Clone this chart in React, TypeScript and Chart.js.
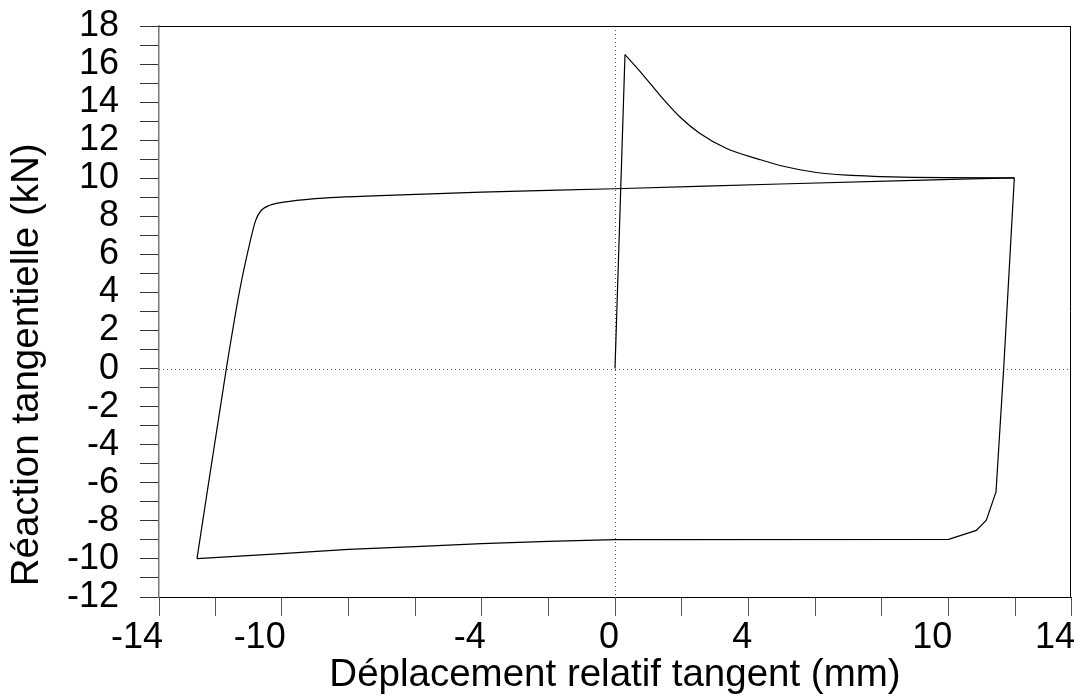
import React, { useEffect, useRef } from "react";
import { Chart, registerables } from "chart.js";

Chart.register(...registerables);

// Hysteresis loop: tangential displacement (mm) vs tangential reaction (kN)
// 1) initial loading
const riseX = [0, 0.3];
const riseY = [0, 16.5];
// 2) softening after the peak
const decayX = [0.3, 0.85, 1.35, 1.95, 2.55, 3.35, 4.35, 5.05, 5.95, 6.95, 7.96, 8.96, 9.96, 11.98];
const decayY = [16.5, 15.41, 14.36, 13.22, 12.35, 11.56, 10.98, 10.63, 10.33, 10.16, 10.09, 10.05, 10.03, 10.02];
// 3) unloading and negative branch
const unloadX = [11.98, 11.66, 11.43, 11.14, 10.84, 10.01, 0, -2, -4, -6, -8, -10, -12.54];
const unloadY = [10.02, 0, -6.48, -7.97, -8.5, -8.97, -8.99, -9.08, -9.2, -9.35, -9.5, -9.72, -9.98];
// 4) reloading and positive branch
const reloadX = [-12.54, -11.66, -11.26, -10.96, -10.78, -10.61, -10.36, -9.76, -8.56, -7.06, -4, 0, 4.95, 8.96, 11.98];
const reloadY = [-9.98, 0, 4.11, 6.57, 7.79, 8.32, 8.58, 8.79, 8.98, 9.09, 9.27, 9.45, 9.7, 9.89, 10.02];

const xMin = -13.68;
const xMax = 13.68;
const xTickValues = [-13.68, -12, -10, -8, -6, -4, -2, 0, 2, 4, 6, 8, 10, 12, 13.68];
const xTickLabels = ["-14", "", "-10", "", "", "-4", "", "0", "", "4", "", "", "10", "", "14"];

const yMin = -12;
const yMax = 18;
const yLabelStep = 2;

const xTitle = "Déplacement relatif tangent (mm)";
const yTitle = " Réaction tangentielle (kN)";

const FONT = "'Liberation Sans', Arial, Helvetica, sans-serif";

const toPoints = (xs: number[], ys: number[]) => xs.map((x, i) => ({ x, y: ys[i] }));

const framePlugin = {
  id: "frameAndZero",
  beforeDatasetsDraw(chart: any) {
    const { ctx, chartArea, scales } = chart;
    const x0 = scales.x.getPixelForValue(0);
    const y0 = scales.y.getPixelForValue(0);
    ctx.save();
    ctx.strokeStyle = "#555";
    ctx.lineWidth = 1;
    ctx.setLineDash([1, 3]);
    ctx.beginPath();
    ctx.moveTo(Math.round(x0) + 0.5, chartArea.top);
    ctx.lineTo(Math.round(x0) + 0.5, chartArea.bottom);
    ctx.moveTo(chartArea.left, Math.round(y0) + 0.5);
    ctx.lineTo(chartArea.right, Math.round(y0) + 0.5);
    ctx.stroke();
    ctx.restore();
  },
  afterDraw(chart: any) {
    const { ctx, chartArea } = chart;
    ctx.save();
    ctx.strokeStyle = "#000";
    ctx.lineWidth = 1;
    ctx.beginPath();
    ctx.moveTo(chartArea.left, Math.round(chartArea.top) + 0.5);
    ctx.lineTo(chartArea.right, Math.round(chartArea.top) + 0.5);
    ctx.moveTo(Math.round(chartArea.right) - 0.5, chartArea.top);
    ctx.lineTo(Math.round(chartArea.right) - 0.5, chartArea.bottom);
    ctx.stroke();
    ctx.restore();
  },
};

const lineStyle = {
  showLine: true,
  borderColor: "#000",
  borderWidth: 1.2,
  pointRadius: 0,
  fill: false,
};

export default function App() {
  const canvasRef = useRef<HTMLCanvasElement | null>(null);

  useEffect(() => {
    if (!canvasRef.current) return;
    const chart = new Chart(canvasRef.current, {
      type: "scatter",
      data: {
        datasets: [
          { ...lineStyle, data: toPoints(riseX, riseY), tension: 0 },
          { ...lineStyle, data: toPoints(decayX, decayY), cubicInterpolationMode: "monotone" },
          { ...lineStyle, data: toPoints(unloadX, unloadY), tension: 0 },
          { ...lineStyle, data: toPoints(reloadX, reloadY), cubicInterpolationMode: "monotone" },
        ],
      },
      plugins: [framePlugin],
      options: {
        animation: false,
        responsive: true,
        maintainAspectRatio: false,
        layout: { padding: { top: 26, right: 10, left: 0, bottom: 0 } },
        plugins: {
          legend: { display: false },
          tooltip: { enabled: false },
        },
        scales: {
          x: {
            type: "linear",
            min: xMin,
            max: xMax,
            afterBuildTicks: (scale: any) => {
              scale.ticks = xTickValues.map((v) => ({ value: v }));
            },
            afterFit: (scale: any) => {
              scale.height = 102;
              scale.paddingLeft = 0;
              scale.paddingRight = 0;
            },
            ticks: {
              autoSkip: false,
              maxRotation: 0,
              minRotation: 0,
              align: "end",
              labelOffset: 4,
              padding: 0,
              color: "#000",
              font: { family: FONT, size: 36 },
              callback: (value: any) => {
                const idx = xTickValues.findIndex((v) => Math.abs(v - Number(value)) < 1e-6);
                return idx >= 0 ? xTickLabels[idx] : "";
              },
            },
            grid: {
              drawOnChartArea: false,
              drawTicks: true,
              tickLength: 19,
              tickColor: "#555",
              tickWidth: 1,
            },
            border: { display: true, color: "#000", width: 1 },
            title: {
              display: true,
              text: xTitle,
              color: "#000",
              font: { family: FONT, size: 38.5 },
              padding: { top: 0, bottom: 1 },
            },
          },
          y: {
            type: "linear",
            min: yMin,
            max: yMax,
            afterFit: (scale: any) => {
              scale.width = 159;
              scale.paddingTop = 0;
              scale.paddingBottom = 0;
            },
            ticks: {
              stepSize: 1,
              autoSkip: false,
              padding: 21,
              color: "#000",
              font: { family: FONT, size: 36 },
              callback: (value: any) => {
                const v = Number(value);
                return Math.abs(v % yLabelStep) < 1e-6 ? String(v) : "";
              },
            },
            grid: {
              drawOnChartArea: false,
              drawTicks: true,
              tickLength: 19,
              tickColor: "#333",
              tickWidth: 1,
            },
            border: { display: true, color: "#777", width: 1.5 },
            title: {
              display: true,
              text: yTitle,
              align: "start",
              color: "#000",
              font: { family: FONT, size: 38.5 },
              padding: { top: 4, bottom: 0 },
            },
          },
        },
      },
    });
    return () => chart.destroy();
  }, []);

  return (
    <div style={{ position: "absolute", left: 0, top: 0, width: 1081, height: 699, background: "#fff" }}>
      <canvas ref={canvasRef} />
    </div>
  );
}
